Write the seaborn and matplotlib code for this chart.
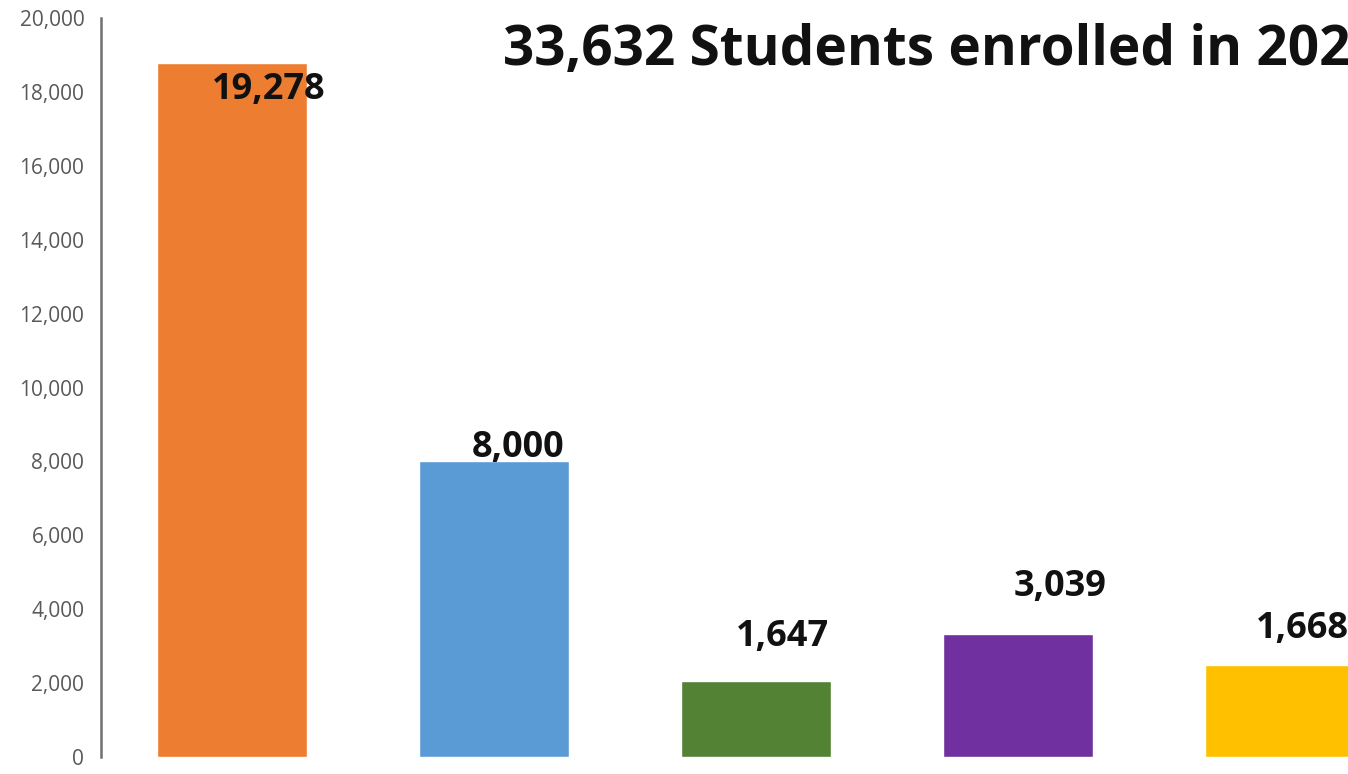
import pandas as pd
import seaborn as sns
import matplotlib.pyplot as plt

# bar heights as drawn, and the numbers printed on them (they don't match exactly)
groups = ['Group 1', 'Group 2', 'Group 3', 'Group 4', 'Group 5']
heights = [18800, 8000, 2050, 3320, 2480]
printed = ['19,278', '8,000', '1,647', '3,039', '1,668']
colors = ['#ED7D31', '#5B9BD5', '#548235', '#7030A0', '#FFC000']
yticks = list(range(0, 20001, 2000))

# label offsets from bar top centre, in pixels
label_offsets = [(37, -27), (24, 13), (26, 44), (42, 47), (22, 36)]

df = pd.DataFrame({'group': groups, 'students': heights})

sns.set_style('white')
plt.rcParams['font.family'] = ['Open Sans', 'DejaVu Sans']

fig = plt.figure(figsize=(13.48, 7.74), dpi=100)
ax = fig.add_axes([0.0749, 0.022, 0.9251, 0.9545])

sns.barplot(data=df, x='group', y='students', hue='group', palette=colors,
            width=0.573, legend=False, ax=ax, saturation=1)

ax.set_xlim(-0.5, 4.258)
ax.set_ylim(0, 20000)
ax.set_yticks(yticks)
ax.set_yticklabels([f'{v:,}' for v in yticks], color='#595959', fontsize=15)
ax.tick_params(axis='y', length=0, pad=12)
ax.set_xticks([])
ax.set_xlabel('')
ax.set_ylabel('')

for s in ['top', 'right', 'bottom']:
    ax.spines[s].set_visible(False)
ax.spines['left'].set_color('#707070')
ax.spines['left'].set_linewidth(1.8)

for i, (h, txt) in enumerate(zip(heights, printed)):
    dx, dy = label_offsets[i]
    ax.annotate(txt, xy=(i, h), xytext=(dx, dy), textcoords='offset pixels',
                ha='center', va='center', fontsize=26, fontweight='bold',
                color='#111111', annotation_clip=False)

fig.text(503 / 1348, 1 - 51 / 774, '33,632 Students enrolled in 2023',
         ha='left', va='center', fontsize=39.5, fontweight='bold', color='#111111')

fig.savefig('out.png', dpi=100)
